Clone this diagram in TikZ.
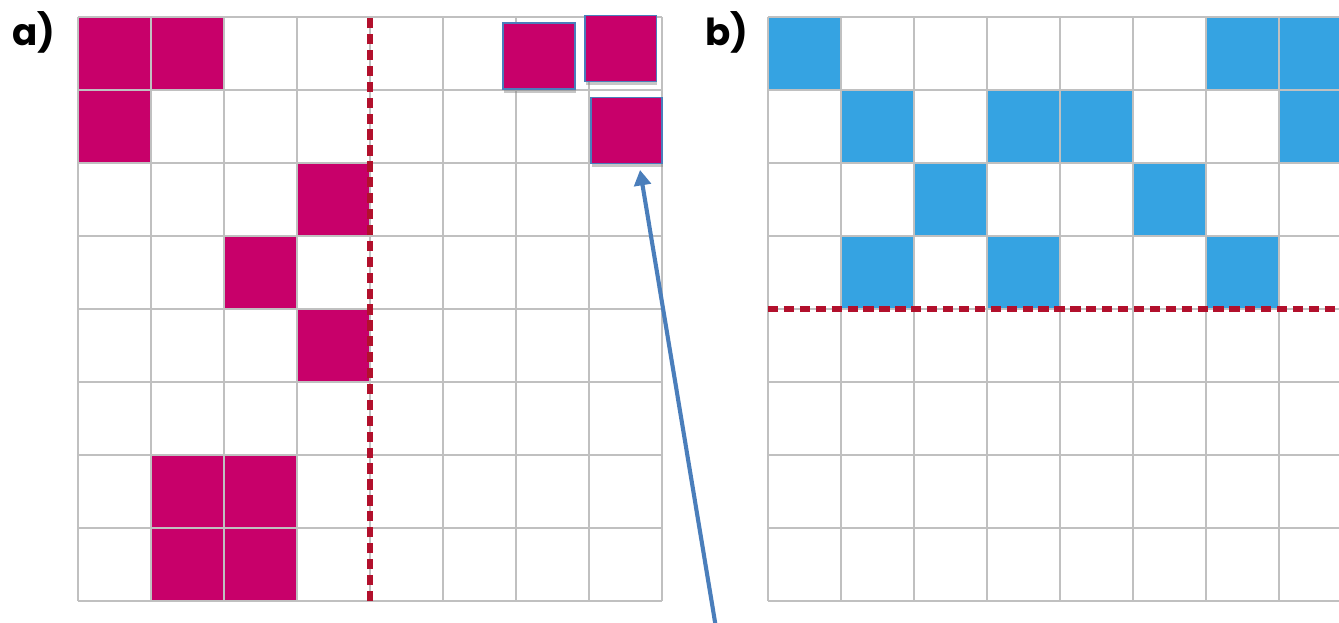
\documentclass[tikz,border=0pt]{standalone}
\usepackage{fontspec}
\setmainfont{Poppins}
\usepackage{tikz}
\usetikzlibrary{arrows.meta,shadows}

\definecolor{cellmag}{RGB}{200,0,106}
\definecolor{cellblue}{RGB}{53,163,226}
\definecolor{gridgray}{RGB}{192,192,192}
\definecolor{cutred}{RGB}{178,16,44}
\definecolor{arrowblue}{RGB}{74,126,187}

\tikzset{
    gridline/.style={gridgray, line width=0.8pt},
    cutline/.style={cutred, line width=2pt, dash pattern=on 4pt off 2.2pt},
    magcell/.style={fill=cellmag},
    bluecell/.style={fill=cellblue},
    movedcell/.style={draw=arrowblue, line width=0.6pt, fill=cellmag, inner sep=0pt,
        minimum width=0.98cm, minimum height=0.9cm,
        drop shadow={shadow xshift=0.4pt, shadow yshift=-1.6pt, opacity=0.45, fill=gray}},
    pointer/.style={-{Triangle[length=6pt,width=6.5pt]}, arrowblue, line width=1.6pt},
    panel/.style={font=\bfseries\fontsize{14.5}{15}\selectfont}
}

\begin{document}
\begin{tikzpicture}
    % Frame of the picture
    \useasboundingbox (-1.0685,-0.2877) rectangle (17.274,8.233);
    \clip (-1.0685,-0.2877) rectangle (17.274,8.233);

    % Panel a: grid, filled cells (column/row from the top)
    \draw[gridline] (0,0) grid (8,8);
    \foreach \c/\r in {0/0,1/0,0/1,3/2,2/3,3/4,1/6,2/6,1/7,2/7}
        \fill[magcell] (\c+0.014,7-\r+0.014) rectangle (\c+0.986,8-\r-0.014);
    \draw[cutline] (4,0) -- (4,8); % cut column

    % Panel a: cells moved out of place
    \node[movedcell] (movedA) at (6.315,7.466) {};
    \node[movedcell] (movedB) at (7.432,7.568) {};
    \node[movedcell, minimum width=0.97cm] (movedC) at (7.514,6.445) {};

    % Panel b: grid, filled cells
    \begin{scope}[xshift=9.452cm]
        \draw[gridline] (0,0) grid (8,8);
        \foreach \c/\r in {0/0,6/0,7/0,1/1,3/1,4/1,7/1,2/2,5/2,1/3,3/3,6/3}
            \fill[bluecell] (\c+0.01,7-\r+0.01) rectangle (\c+0.99,8-\r-0.01);
        \draw[cutline] (0,4) -- (8,4); % cut row
    \end{scope}

    % Pointer to the moved cell
    \coordinate (tail) at (8.74,-0.37);
    \draw[pointer] (tail) -- ([xshift=0.185cm,yshift=-0.08cm]movedC.south);

    % Panel labels
    \node[panel] (labelA) at (-0.6,7.795) {a)};
    \node[panel] (labelB) at (8.89,7.795) {b)};
\end{tikzpicture}
\end{document}
